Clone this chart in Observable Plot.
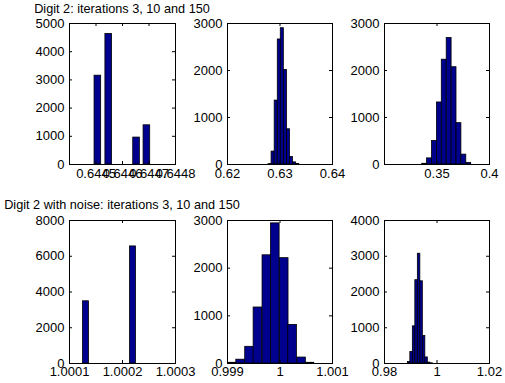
<!DOCTYPE html>
<html><head><meta charset="utf-8">
<script src="https://cdn.jsdelivr.net/npm/d3@7"></script>
<script src="https://cdn.jsdelivr.net/npm/@observablehq/plot@0.6"></script>
<style>
body{margin:0;background:#fff;}
#fig{position:relative;width:505px;height:383px;overflow:hidden;font-family:"Liberation Sans",Arial,sans-serif;background:#fff;}
.panel{position:absolute;}
.title{position:absolute;left:0;width:244px;text-align:center;white-space:nowrap;font-size:12.7px;color:#000;line-height:15px;}
</style></head><body><div id="fig"></div>
<script>
// Titles
const titles = ["Digit 2: iterations 3, 10 and 150", "Digit 2 with noise: iterations 3, 10 and 150"];

// Panel 1: Digit 2, iteration 3
const p1Centers = [0.644507, 0.644548, 0.644653, 0.644692];
const p1Counts = [3150, 4630, 955, 1390];
const p1BinWidth = 0.000025;
const p1XDomain = [0.6444, 0.6448];
const p1XTicks = [0.6445, 0.6446, 0.6447, 0.6448];
const p1YTicks = [0, 1000, 2000, 3000, 4000, 5000];

// Panel 2: Digit 2, iteration 10
const p2Centers = [0.62810, 0.62869, 0.62928, 0.62987, 0.63044, 0.63103, 0.63162, 0.63219, 0.63278, 0.63337];
const p2Counts = [8, 275, 1360, 2660, 2900, 2010, 750, 160, 45, 10];
const p2BinWidth = 0.000585;
const p2XDomain = [0.62, 0.64];
const p2XTicks = [0.62, 0.63, 0.64];
const p2YTicks = [0, 1000, 2000, 3000];

// Panel 3: Digit 2, iteration 150
const p3Centers = [0.33824, 0.34290, 0.34757, 0.35224, 0.35690, 0.36157, 0.36624, 0.37090, 0.37557, 0.38024];
const p3Counts = [15, 130, 500, 1320, 2230, 2690, 2070, 880, 210, 35];
const p3BinWidth = 0.004667;
const p3XDomain = [0.3, 0.4];
const p3XTicks = [0.35, 0.4];
const p3YTicks = [0, 1000, 2000, 3000];

// Panel 4: Digit 2 with noise, iteration 3
const p4Centers = [1.0001311, 1.0002198];
const p4Counts = [3480, 6550];
const p4BinWidth = 0.0000113;
const p4XDomain = [1.0001, 1.0003];
const p4XTicks = [1.0001, 1.0002, 1.0003];
const p4YTicks = [0, 2000, 4000, 6000, 8000];

// Panel 5: Digit 2 with noise, iteration 10
const p5Centers = [0.99909, 0.99925, 0.99942, 0.99958, 0.99975, 0.99991, 1.00008, 1.00024, 1.00041, 1.00057];
const p5Counts = [15, 80, 350, 1175, 2270, 2940, 2210, 810, 125, 15];
const p5BinWidth = 0.000165;
const p5XDomain = [0.999, 1.001];
const p5XTicks = [0.999, 1, 1.001];
const p5YTicks = [0, 1000, 2000, 3000];

// Panel 6: Digit 2 with noise, iteration 150
const p6Centers = [0.98937, 0.99032, 0.99127, 0.99222, 0.99318, 0.99413, 0.99508, 0.99603, 0.99699, 0.99794];
const p6Counts = [40, 320, 1040, 2330, 3070, 2300, 770, 170, 25, 5];
const p6BinWidth = 0.000952;
const p6XDomain = [0.98, 1.02];
const p6XTicks = [0.98, 1, 1.02];
const p6YTicks = [0, 1000, 2000, 3000, 4000];

const panels = [
  {c: p1Centers, n: p1Counts, w: p1BinWidth, xd: p1XDomain, xt: p1XTicks, yt: p1YTicks},
  {c: p2Centers, n: p2Counts, w: p2BinWidth, xd: p2XDomain, xt: p2XTicks, yt: p2YTicks},
  {c: p3Centers, n: p3Counts, w: p3BinWidth, xd: p3XDomain, xt: p3XTicks, yt: p3YTicks},
  {c: p4Centers, n: p4Counts, w: p4BinWidth, xd: p4XDomain, xt: p4XTicks, yt: p4YTicks},
  {c: p5Centers, n: p5Counts, w: p5BinWidth, xd: p5XDomain, xt: p5XTicks, yt: p5YTicks},
  {c: p6Centers, n: p6Counts, w: p6BinWidth, xd: p6XDomain, xt: p6XTicks, yt: p6YTicks}
];

// Layout (frame left, top, width, height)
const frames = [
  [69, 23, 106, 141], [227, 23, 105, 141], [384, 23, 105, 141],
  [69, 220, 106, 143], [227, 220, 105, 143], [384, 220, 105, 143]
];
const titleTops = [2, 198];

const fig = document.getElementById("fig");
const ML = 45, MR = 25, MT = 10, MB = 25, TK = 3;

panels.forEach((p, i) => {
  const [fx, fy, fw, fh] = frames[i];
  const yMax = p.yt[p.yt.length - 1];
  const data = p.c.map((c, j) => ({c, n: p.n[j]}));
  const chart = Plot.plot({
    width: ML + fw + MR,
    height: MT + fh + MB,
    marginLeft: ML, marginRight: MR, marginTop: MT, marginBottom: MB,
    style: {background: "transparent", overflow: "visible", fontFamily: "'Liberation Sans', Arial, sans-serif", fontSize: "13px", color: "black"},
    x: {domain: p.xd, axis: null},
    y: {domain: [0, yMax], axis: null},
    marks: [
      Plot.rectY(data, {x1: d => d.c - p.w / 2, x2: d => d.c + p.w / 2, y: "n", fill: "#00008f", stroke: "black", strokeWidth: 0.8}),
      Plot.frame({stroke: "black"}),
      Plot.tickX(p.xt, {x: d => d, insetTop: fh - TK, stroke: "black"}),
      Plot.tickX(p.xt, {x: d => d, insetBottom: fh - TK, stroke: "black"}),
      Plot.tickY(p.yt, {y: d => d, insetRight: fw - TK, stroke: "black"}),
      Plot.tickY(p.yt, {y: d => d, insetLeft: fw - TK, stroke: "black"}),
      Plot.axisX(p.xt, {tickSize: 0, tickPadding: i < 3 ? 4 : 3, tickFormat: d => String(d), fill: "black", label: null}),
      Plot.axisY(p.yt, {tickSize: 0, tickPadding: 5, tickFormat: d => String(d), fill: "black", label: null})
    ]
  });
  const div = document.createElement("div");
  div.className = "panel";
  div.style.left = (fx - ML) + "px";
  div.style.top = (fy - MT) + "px";
  div.style.width = (ML + fw + MR) + "px";
  div.appendChild(chart);
  fig.appendChild(div);
});

titles.forEach((t, i) => {
  const d = document.createElement("div");
  d.className = "title";
  d.style.top = titleTops[i] + "px";
  d.textContent = t;
  fig.appendChild(d);
});
</script>
</body></html>
